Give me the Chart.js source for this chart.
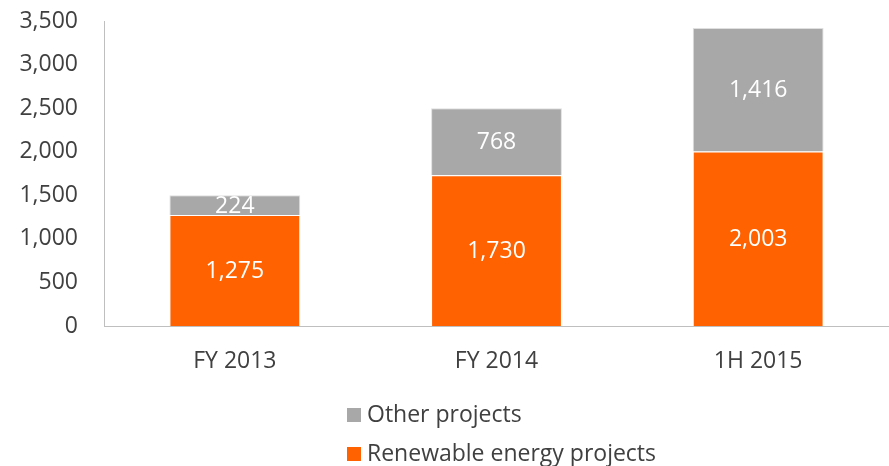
<!DOCTYPE html>
<html>
<head>
<meta charset="utf-8">
<script src="https://cdn.jsdelivr.net/npm/chart.js@4"></script>
<style>
  html, body { margin: 0; padding: 0; background: #fff; }
  #wrap { width: 889px; height: 466px; }
</style>
</head>
<body>
<div id="wrap"><canvas id="c" width="889" height="466"></canvas></div>
<script>
  const categories = ["FY 2013", "FY 2014", "1H 2015"];
  const renewable = [1275, 1730, 2003];
  const other = [224, 768, 1416];
  const yTicks = [0, 500, 1000, 1500, 2000, 2500, 3000, 3500];

  const FONT = "'Open Sans', sans-serif";
  const TEXT = "#404040";

  // white value labels in the middle of each bar segment
  const barLabels = {
    id: "barLabels",
    afterDatasetsDraw(chart) {
      const ctx = chart.ctx;
      ctx.save();
      ctx.font = `23px ${FONT}`;
      ctx.fillStyle = "#ffffff";
      ctx.textAlign = "center";
      ctx.textBaseline = "middle";
      chart.data.datasets.forEach((ds, i) => {
        chart.getDatasetMeta(i).data.forEach((bar, j) => {
          const p = bar.getProps(["x", "y", "base"], true);
          ctx.fillText(ds.data[j].toLocaleString("en-US"), p.x, (p.y + p.base) / 2 + 1);
        });
      });
      ctx.restore();
    },
  };

  // vertical legend under the chart, top series first
  const stackedLegend = {
    id: "stackedLegend",
    afterDraw(chart) {
      const ctx = chart.ctx;
      ctx.save();
      ctx.font = `23px ${FONT}`;
      ctx.textBaseline = "middle";
      const items = chart.data.datasets.slice().reverse();
      items.forEach((ds, k) => {
        const y = 415 + k * 39;
        ctx.fillStyle = ds.backgroundColor;
        ctx.fillRect(347, y - 7, 14, 14);
        ctx.fillStyle = TEXT;
        ctx.fillText(ds.label, 367, y);
      });
      ctx.restore();
    },
  };

  new Chart(document.getElementById("c"), {
    type: "bar",
    data: {
      labels: categories,
      datasets: [
        {
          label: "Renewable energy projects",
          data: renewable,
          backgroundColor: "#ff6200",
          borderColor: "rgba(255,255,255,0.7)",
          borderWidth: 1,
          barPercentage: 0.5,
          categoryPercentage: 1,
        },
        {
          label: "Other projects",
          data: other,
          backgroundColor: "#a8a8a8",
          borderColor: "rgba(220,220,220,0.9)",
          borderWidth: 1,
          barPercentage: 0.5,
          categoryPercentage: 1,
        },
      ],
    },
    options: {
      responsive: false,
      animation: false,
      layout: { padding: { top: 21, right: 0, bottom: 0, left: 0 } },
      plugins: {
        legend: { display: false },
        tooltip: { enabled: false },
      },
      scales: {
        x: {
          stacked: true,
          grid: { display: false },
          border: { color: "#bfbfbf", width: 1 },
          ticks: { color: TEXT, font: { family: FONT, size: 23 }, padding: 14 },
          afterFit(s) { s.height = 140; },
        },
        y: {
          stacked: true,
          min: 0,
          max: 3500,
          grid: { display: false },
          border: { color: "#bfbfbf", width: 1 },
          afterBuildTicks(s) { s.ticks = yTicks.map((v) => ({ value: v })); },
          ticks: {
            color: TEXT,
            font: { family: FONT, size: 23 },
            padding: 18,
            callback: (v) => v.toLocaleString("en-US"),
          },
          afterFit(s) {
            s.width = 104;
            s.paddingTop = 0;
            s.paddingBottom = 0;
          },
        },
      },
    },
    plugins: [barLabels, stackedLegend],
  });
</script>
</body>
</html>
